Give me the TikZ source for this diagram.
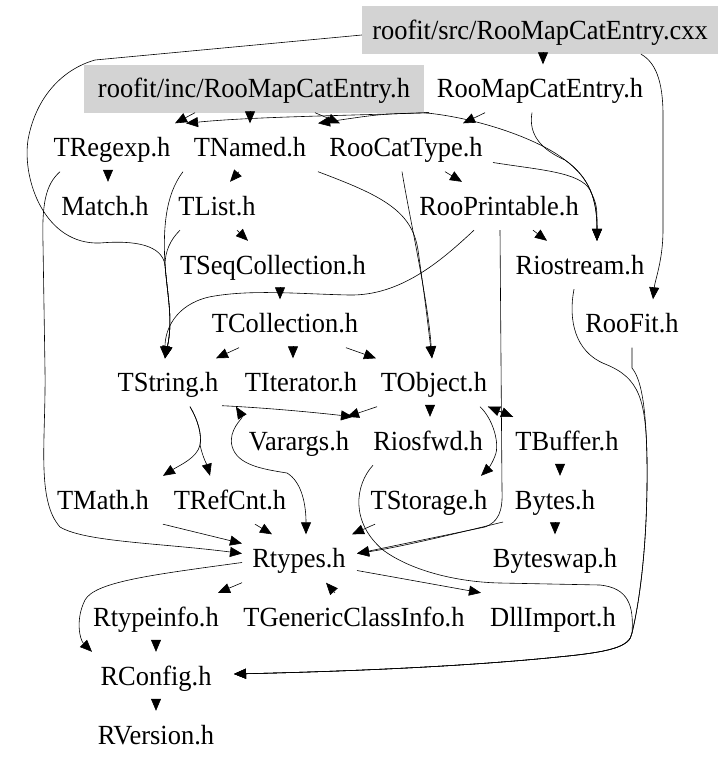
\documentclass[tikz,border=0pt]{standalone}
\usepackage{fontspec}
\setmainfont{Liberation Serif}[FakeStretch=0.955]
\usetikzlibrary{arrows.meta}
\definecolor{boxgray}{RGB}{211,211,211}
\tikzset{
  file/.style={inner xsep=8pt, inner ysep=0pt, minimum height=48pt, text height=20pt, text depth=2pt, font=\fontsize{27.7}{30}\selectfont},
  rootfile/.style={file, fill=boxgray},
  dep/.style={draw=black, line width=0.6pt, -{Triangle[length=12pt,width=10pt]}},
  depboth/.style={draw=black, line width=0.6pt, {Triangle[length=12pt,width=10pt]}-{Triangle[length=12pt,width=10pt]}},
}
\begin{document}
\begin{tikzpicture}[x=1pt,y=-1pt]
\useasboundingbox (0,0) rectangle (725,763);
% nodes
\node[rootfile, minimum width=356pt] (src) at (540,30) {roofit/src/RooMapCatEntry.cxx};
\node[rootfile, minimum width=340pt] (inc) at (254,88.5) {roofit/inc/RooMapCatEntry.h};
\node[file] (rmce) at (540,88.5) {RooMapCatEntry.h};
\node[file] (tregexp) at (112,147.5) {TRegexp.h};
\node[file] (tnamed) at (250,147.5) {TNamed.h};
\node[file] (roocattype) at (406,147.5) {RooCatType.h};
\node[file] (match) at (105,206) {Match.h};
\node[file] (tlist) at (217,206) {TList.h};
\node[file] (rooprintable) at (499,206) {RooPrintable.h};
\node[file] (tseq) at (273,265) {TSeqCollection.h};
\node[file] (riostream) at (580,265) {Riostream.h};
\node[file] (tcoll) at (285,323.5) {TCollection.h};
\node[file] (roofit) at (632,323.5) {RooFit.h};
\node[file] (tstring) at (168,382.5) {TString.h};
\node[file] (titerator) at (301,382.5) {TIterator.h};
\node[file] (tobject) at (434,382.5) {TObject.h};
\node[file] (varargs) at (299,441) {Varargs.h};
\node[file] (riosfwd) at (428,441) {Riosfwd.h};
\node[file] (tbuffer) at (567,441) {TBuffer.h};
\node[file] (tmath) at (103,500) {TMath.h};
\node[file] (trefcnt) at (230,500) {TRefCnt.h};
\node[file] (tstorage) at (429,500) {TStorage.h};
\node[file] (bytes) at (555,500) {Bytes.h};
\node[file] (rtypes) at (299,558.5) {Rtypes.h};
\node[file] (byteswap) at (555,558.5) {Byteswap.h};
\node[file] (rtypeinfo) at (156,617) {Rtypeinfo.h};
\node[file] (tgen) at (354,617) {TGenericClassInfo.h};
\node[file] (dllimport) at (553,617) {DllImport.h};
\node[file] (rconfig) at (156,676) {RConfig.h};
\node[file] (rversion) at (156,735) {RVersion.h};
% edges
\draw[dep] ([shift={(-59,0)}]inc.south) -- ([shift={(63,0)}]tregexp.north);
\draw[dep] ([shift={(-111,0)}]rmce.south) .. controls (330,116) and (250,117) .. ([shift={(74,0)}]tregexp.north);
\draw[dep] ([shift={(-4,0)}]inc.south) -- (tnamed.north);
\draw[dep] ([shift={(61,0)}]inc.south) -- ([shift={(-66,0)}]roocattype.north);
\draw[dep] ([shift={(-111,0)}]rmce.south) .. controls (380,114) .. ([shift={(68,0)}]tnamed.north);
\draw[dep] ([shift={(-55,0)}]rmce.south) -- ([shift={(57,0)}]roocattype.north);
\draw[dep] ([shift={(170,0)}]inc.south) .. controls (480,118) and (540,140) .. (565,160) .. controls (590,178) and (597,200) .. ([shift={(17,0)}]riostream.north);
\draw[dep] ([shift={(-8,0)}]rmce.south) .. controls (528,135) and (542,150) .. (565,160) .. controls (590,178) and (597,200) .. ([shift={(17,0)}]riostream.north);
\draw[dep] ([shift={(87,15)}]roocattype.center) .. controls (540,170) and (580,172) .. (590,190) .. controls (597,205) .. ([shift={(17,0)}]riostream.north);
\draw[dep] ([shift={(39,0)}]roocattype.south) -- ([shift={(-37,0)}]rooprintable.north);
\draw[dep] ([shift={(34,0)}]rooprintable.south) -- ([shift={(-33,0)}]riostream.north);
\draw[dep] ([shift={(-25,0)}]rooprintable.south) .. controls (440,262) and (400,296) .. (349,295) .. controls (300,294) and (250,289) .. (209,297) .. controls (175,305) and (165,330) .. ([shift={(-3,0)}]tstring.north);
\draw[dep] ([shift={(1,0)}]rooprintable.south) -- (502,490) .. controls (503,512) and (498,522) .. (485,527) -- ([shift={(58,-5)}]rtypes.center);
\draw[dep] ([shift={(-4,0)}]roocattype.south) .. controls (410,220) and (428,300) .. ([shift={(-2,0)}]tobject.north);
\draw[dep] ([shift={(68,0)}]tnamed.south) .. controls (380,195) and (412,210) .. (418,250) .. controls (425,300) .. ([shift={(-2,0)}]tobject.north);
\draw[dep] ([shift={(-11,0)}]tnamed.south) -- ([shift={(13,0)}]tlist.north);
\draw[dep] ([shift={(-67,0)}]tnamed.south) .. controls (165,195) and (163,230) .. (165,265) .. controls (168,300) and (173,320) .. ([shift={(-3,0)}]tstring.north);
\draw[dep] ([shift={(-37,0)}]tlist.south) .. controls (170,240) and (165,252) .. (165,265) .. controls (168,300) and (173,320) .. ([shift={(-3,0)}]tstring.north);
\draw[dep] ([shift={(0,5)}]src.west) -- (95,60) .. controls (60,70) and (35,100) .. (28,140) .. controls (22,180) and (45,245) .. (100,243) .. controls (135,240) and (162,245) .. (165,265) .. controls (168,300) and (173,320) .. ([shift={(-3,0)}]tstring.north);
\draw[dep] ([shift={(3,0)}]src.south) -- ([shift={(3,0)}]rmce.north);
\draw[dep] ([shift={(101,0)}]src.south) .. controls (655,62) and (663,80) .. (663,115) -- (663,230) .. controls (663,260) and (655,280) .. ([shift={(21,0)}]roofit.north);
\draw[dep] ([shift={(-4,0)}]tregexp.south) -- ([shift={(3,0)}]match.north);
\draw[dep] ([shift={(-52,0)}]tregexp.south) .. controls (45,185) and (42,205) .. (43,243) -- (45,370) .. controls (46,440) and (36,500) .. (60,527) .. controls (85,542) and (160,543) .. ([shift={(-57,-5)}]rtypes.center);
\draw[dep] ([shift={(20,0)}]tlist.south) -- ([shift={(-25,0)}]tseq.north);
\draw[dep] ([shift={(7,0)}]tseq.south) -- ([shift={(-5,0)}]tcoll.north);
\draw[dep] ([shift={(-46,0)}]tcoll.south) -- ([shift={(48,0)}]tstring.north);
\draw[dep] ([shift={(8,0)}]tcoll.south) -- ([shift={(-8,0)}]titerator.north);
\draw[dep] ([shift={(61,0)}]tcoll.south) -- ([shift={(-58,0)}]tobject.north);
\draw[dep] ([shift={(22,0)}]tstring.south) .. controls (198,420) and (202,435) .. (200,445) .. controls (197,458) and (180,465) .. ([shift={(60,0)}]tmath.north);
\draw[dep] ([shift={(22,0)}]tstring.south) .. controls (198,420) and (202,435) .. (200,445) .. controls (203,458) and (207,465) .. ([shift={(-20,0)}]trefcnt.north);
\draw[dep] ([shift={(54,-1)}]tstring.south) .. controls (270,408) and (320,413) .. ([shift={(54,0)}]varargs.north);
\draw[depboth] ([shift={(68,0)}]tstring.south) .. controls (243,418) and (228,430) .. (232,446) .. controls (237,465) and (262,469) .. (287,473) .. controls (302,482) and (306,505) .. ([shift={(7,0)}]rtypes.north);
\draw[dep] ([shift={(-57,0)}]tobject.south) -- ([shift={(48,0)}]varargs.north);
\draw[dep] ([shift={(-4,0)}]tobject.south) -- ([shift={(2,0)}]riosfwd.north);
\draw[dep] ([shift={(46,0)}]tobject.south) .. controls (492,418) and (499,440) .. (496,453) .. controls (493,463) and (487,470) .. ([shift={(52,0)}]tstorage.north);
\draw[dep] ([shift={(54,0)}]tobject.south) -- ([shift={(-54,0)}]tbuffer.north);
\draw[dep] ([shift={(-54,0)}]tbuffer.north) -- ([shift={(54,0)}]tobject.south);
\draw[dep] ([shift={(-7,0)}]tbuffer.south) -- ([shift={(5,0)}]bytes.north);
\draw[dep] (bytes.south) -- (byteswap.north);
\draw[dep] ([shift={(-52,22)}]bytes.center) .. controls (450,535) and (400,547) .. ([shift={(58,-5)}]rtypes.center);
\draw[dep] ([shift={(-54,0)}]tstorage.south) -- ([shift={(53,0)}]rtypes.north);
\draw[dep] ([shift={(60,0)}]tmath.south) -- ([shift={(-57,-15)}]rtypes.center);
\draw[dep] ([shift={(25,0)}]trefcnt.south) -- ([shift={(-27,0)}]rtypes.north);
\draw[dep] ([shift={(-57,0)}]rtypes.south) -- ([shift={(62,0)}]rtypeinfo.north);
\draw[dep] ([shift={(58,12)}]rtypes.center) .. controls (410,580) .. ([shift={(-72,0)}]dllimport.north);
\draw[dep] ([shift={(-57,4)}]rtypes.center) .. controls (150,575) and (95,582) .. (85,600) .. controls (75,620) and (80,640) .. ([shift={(-64,0)}]rconfig.north);
\draw[dep] ([shift={(-19,0)}]tgen.north) -- ([shift={(27,0)}]rtypes.south);
\draw[dep] (rtypeinfo.south) -- (rconfig.north);
\draw[dep] (rconfig.south) -- (rversion.north);
\draw[dep] ([shift={(-55,0)}]riosfwd.south) .. controls (355,485) and (350,522) .. (383,550) .. controls (410,570) and (455,582) .. (500,583) -- (600,585) .. controls (628,588) and (634,605) .. (632,633) .. controls (630,647) and (610,652) .. (558,657) .. controls (450,668) and (320,672) .. ([shift={(78,-2)}]rconfig.center);
\draw[dep] ([shift={(-6,0)}]riostream.south) .. controls (568,320) and (575,352) .. (605,364) .. controls (640,378) and (646,400) .. (647,460) .. controls (648,540) and (640,600) .. (632,633) .. controls (630,647) and (610,652) .. (558,657) .. controls (450,668) and (320,672) .. ([shift={(78,-2)}]rconfig.center);
\draw[dep] (roofit.south) -- (632,368) .. controls (640,378) and (646,400) .. (647,460) .. controls (648,540) and (640,600) .. (632,633) .. controls (630,647) and (610,652) .. (558,657) .. controls (450,668) and (320,672) .. ([shift={(78,-2)}]rconfig.center);
\end{tikzpicture}
\end{document}
